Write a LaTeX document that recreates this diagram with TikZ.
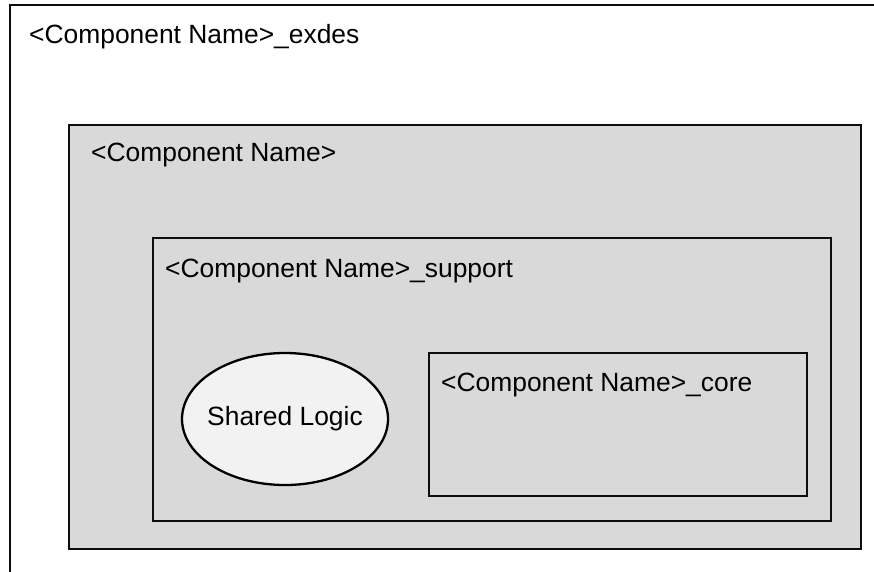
\documentclass[tikz,border=0pt]{standalone}
\usepackage{fontspec}
\setmainfont{Liberation Sans}
\definecolor{boxgrey}{RGB}{217,217,217}
\definecolor{logicgrey}{RGB}{242,242,242}

\begin{document}
\begin{tikzpicture}[x=1pt, y=-1pt,
    frame/.style={line width=2.8pt, draw=black!95},
    compname/.style={anchor=base west, inner sep=0pt, font=\fontsize{26.4}{30}\selectfont}]
    %%%%% START %%%%%
    \useasboundingbox (0, 0) rectangle (874, 571);
    \clip (0, 0) rectangle (874, 571);
    \fill[white] (0, 0) rectangle (874, 571);

    % exdes wrapper, runs off the page
    \draw[frame] (10, 5) rectangle (900, 600);
    \node[compname] (exdes) at (29, 43) {<Component Name>\_exdes};

    % component
    \draw[frame, fill=boxgrey] (69, 125) rectangle (861, 549);
    \node[compname] (comp) at (91, 161) {<Component Name>};

    % support
    \draw[frame] (153, 238) rectangle (831, 521);
    \node[compname] (support) at (165, 277) {<Component Name>\_support};

    % core
    \draw[frame] (429, 353) rectangle (807, 496);
    \node[compname] (core) at (441, 391) {<Component Name>\_core};

    % shared logic
    \draw[line width=2.3pt, fill=logicgrey] (285, 419) ellipse (103 and 66);
    \node[inner sep=0pt, font=\fontsize{26.4}{30}\selectfont] (logic) at (285, 419) {Shared Logic};
    %%%%% END %%%%%
\end{tikzpicture}
\end{document}
